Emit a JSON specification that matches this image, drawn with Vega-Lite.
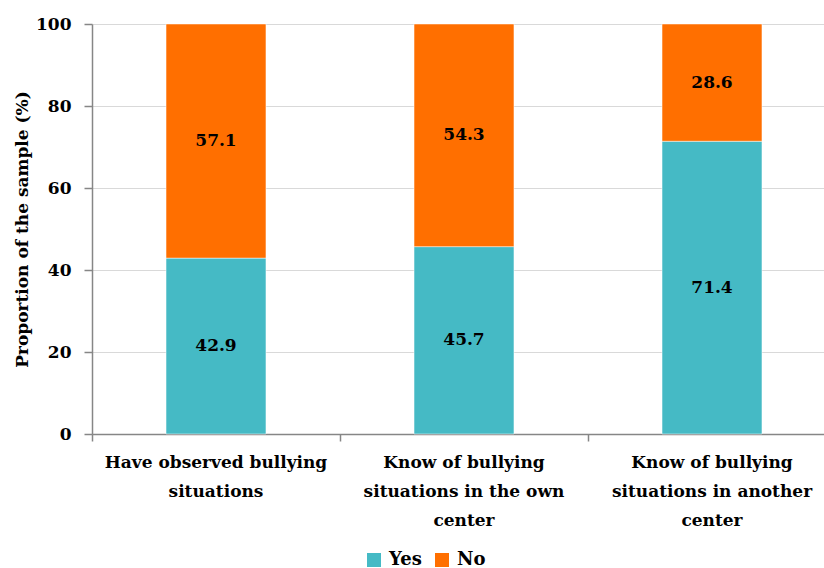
{
  "$schema": "https://vega.github.io/schema/vega-lite/v6.json",
  "autosize": "none",
  "width": 744,
  "height": 410,
  "padding": {"left": 92, "top": 24, "right": 0, "bottom": 134},
  "background": "white",
  "config": {
    "font": "DejaVu Serif",
    "view": {"stroke": null}
  },
  "data": {
    "values": [
      {"item": "Have observed bullying situations", "answer": "Yes", "value": 42.9},
      {"item": "Have observed bullying situations", "answer": "No", "value": 57.1},
      {"item": "Know of bullying situations in the own center", "answer": "Yes", "value": 45.7},
      {"item": "Know of bullying situations in the own center", "answer": "No", "value": 54.3},
      {"item": "Know of bullying situations in another center", "answer": "Yes", "value": 71.4},
      {"item": "Know of bullying situations in another center", "answer": "No", "value": 28.6}
    ]
  },
  "transform": [
    {"stack": "value", "groupby": ["item"], "sort": [{"field": "answer", "order": "descending"}], "as": ["v0", "v1"]},
    {"calculate": "(datum.v0 + datum.v1) / 2", "as": "mid"}
  ],
  "encoding": {
    "x": {
      "field": "item",
      "type": "nominal",
      "sort": null,
      "scale": {"paddingInner": 0, "paddingOuter": 0},
      "axis": {
        "title": null,
        "labelAngle": 0,
        "bandPosition": 0,
        "labelLimit": 400,
        "labelFont": "DejaVu Serif",
        "labelFontWeight": "bold",
        "labelFontSize": 17,
        "labelColor": "#000000",
        "labelLineHeight": 29,
        "labelPadding": 13,
        "labelBaseline": "top",
        "domainColor": "#868686",
        "domainWidth": 1.5,
        "tickColor": "#868686",
        "tickWidth": 1.5,
        "tickSize": 7,
        "grid": false,
        "labelExpr": "datum.value == 'Have observed bullying situations' ? ['Have observed bullying', 'situations'] : datum.value == 'Know of bullying situations in the own center' ? ['Know of bullying', 'situations in the own', 'center'] : ['Know of bullying', 'situations in another', 'center']"
      }
    }
  },
  "layer": [
    {
      "mark": {"type": "bar", "width": {"band": 0.403}, "stroke": "white", "strokeWidth": 0.5},
      "encoding": {
        "y": {
          "field": "v0",
          "type": "quantitative",
          "scale": {"domain": [0, 100]},
          "axis": {
            "title": "Proportion of the sample (%)",
            "titleFont": "DejaVu Serif",
            "titleFontWeight": "bold",
            "titleFontSize": 17,
            "titleColor": "#000000",
            "titlePadding": 4,
            "values": [0, 20, 40, 60, 80, 100],
            "labelFont": "DejaVu Serif",
            "labelFontWeight": "bold",
            "labelFontSize": 17,
            "labelColor": "#000000",
            "labelPadding": 13,
            "domainColor": "#868686",
            "domainWidth": 1.5,
            "tickColor": "#868686",
            "tickWidth": 1.5,
            "tickSize": 8,
            "gridColor": "#d9d9d9",
            "gridWidth": 1
          }
        },
        "y2": {"field": "v1"},
        "color": {
          "field": "answer",
          "type": "nominal",
          "scale": {"domain": ["Yes", "No"], "range": ["#45bac5", "#ff6f00"]},
          "legend": {
            "title": null,
            "orient": "none",
            "direction": "horizontal",
            "legendX": 273,
            "legendY": 527,
            "symbolType": "square",
            "symbolSize": 196,
            "symbolStrokeWidth": 0,
            "labelFont": "DejaVu Serif",
            "labelFontWeight": "bold",
            "labelFontSize": 18,
            "labelColor": "#000000",
            "columnPadding": 11,
            "labelOffset": 6
          }
        }
      }
    },
    {
      "mark": {"type": "text", "font": "DejaVu Serif", "fontWeight": "bold", "fontSize": 17, "color": "#000000", "baseline": "middle"},
      "encoding": {
        "y": {"field": "mid", "type": "quantitative"},
        "text": {"field": "value", "type": "quantitative", "format": ".1f"}
      }
    }
  ]
}
